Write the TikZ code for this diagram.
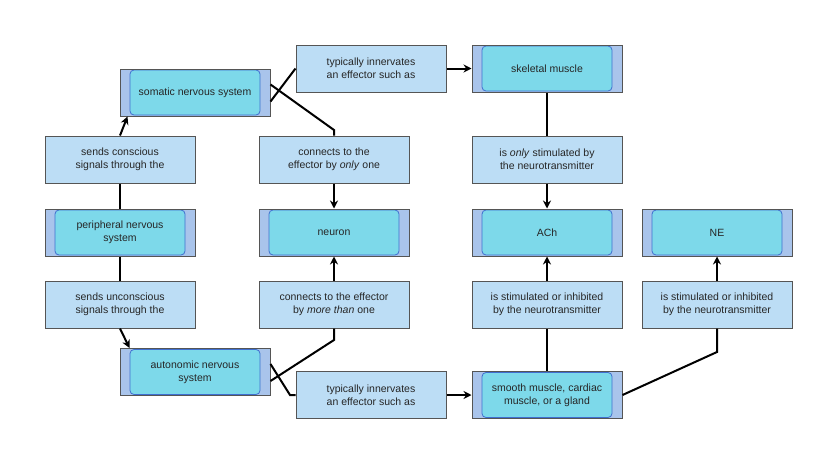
\documentclass[tikz,border=0pt]{standalone}
\usepackage{fontspec}
\setmainfont{Liberation Sans}
\usetikzlibrary{arrows.meta}
\definecolor{band}{HTML}{A9C4EB}
\definecolor{inner}{HTML}{7DD9EA}
\definecolor{innerb}{HTML}{3F6FD0}
\definecolor{phr}{HTML}{BCDDF5}
\definecolor{edge}{HTML}{555555}
\begin{document}
\begin{tikzpicture}[x=1pt,y=-1pt,
  phrase/.style={draw=edge,line width=1pt,fill=phr,minimum width=150pt,minimum height=47pt,align=center,font=\fontsize{10.5}{13}\selectfont,text=black!85,inner sep=0pt},
  concept/.style={draw=edge,line width=1pt,fill=band,minimum width=150pt,minimum height=47pt,inner sep=0pt,
    path picture={\fill[inner,draw=innerb,line width=0.8pt,rounded corners=4pt] ([xshift=10pt,yshift=-1pt]path picture bounding box.north west) rectangle ([xshift=-10pt,yshift=1pt]path picture bounding box.south east);}},
  ctext/.style={align=center,font=\fontsize{10.5}{13}\selectfont,text=black!85},
  ln/.style={line width=2pt},
  arr/.style={line width=2pt,-{Stealth[length=8pt,width=8pt]}}]
\useasboundingbox (0,0) rectangle (825,461);
\newcommand{\concept}[4]{\node[concept] (#1) at (#2,#3) {}; \node[ctext] at (#1) {#4};}
\concept{som}{195}{92.5}{somatic nervous system}
\concept{per}{120}{232.5}{peripheral nervous\\system}
\concept{aut}{195}{372}{autonomic nervous\\system}
\concept{skel}{547}{68.5}{skeletal muscle}
\concept{neu}{334}{232.5}{neuron}
\concept{ach}{547}{232.5}{ACh}
\concept{ne}{717}{232.5}{NE}
\concept{smo}{547}{395}{smooth muscle, cardiac\\muscle, or a gland}
\node[phrase] (p1) at (120,159.5) {sends conscious\\signals through the};
\node[phrase] (p2) at (120,304.5) {sends unconscious\\signals through the};
\node[phrase] (p3) at (371,68.5) {typically innervates\\an effector such as};
\node[phrase] (p4) at (371,395) {typically innervates\\an effector such as};
\node[phrase] (p5) at (334,159.5) {connects to the\\effector by \textit{only} one};
\node[phrase] (p6) at (334,304.5) {connects to the effector\\by \textit{more than} one};
\node[phrase] (p7) at (547,159.5) {is \textit{only} stimulated by\\the neurotransmitter};
\node[phrase] (p8) at (547,304.5) {is stimulated or inhibited\\by the neurotransmitter};
\node[phrase] (p9) at (717,304.5) {is stimulated or inhibited\\by the neurotransmitter};
\draw[ln] (per.north) -- (p1.south);
\draw[arr] (p1.north) -- ([xshift=8pt]som.south west);
\draw[ln] (per.south) -- (p2.south |- p2.north);
\draw[arr] (p2.south) -- ([xshift=10pt]aut.north west);
\draw[ln] ([yshift=-9pt]som.east) -- (p3.west);
\draw[arr] (p3.east) -- (skel.west);
\draw[ln] ([yshift=8pt]som.east) -- (334,130) -- (p5.north);
\draw[arr] (p5.south) -- (neu.north);
\draw[ln] ([yshift=-9pt]aut.east) -- (334,340) -- (p6.south);
\draw[arr] (p6.north) -- (neu.south);
\draw[ln] ([yshift=8pt]aut.east) -- (290,395) -- (p4.west);
\draw[arr] (p4.east) -- (smo.west);
\draw[ln] (skel.south) -- (p7.north);
\draw[arr] (p7.south) -- (ach.north);
\draw[ln] (smo.north) -- (p8.south);
\draw[arr] (p8.north) -- (ach.south);
\draw[ln] (smo.east) -- (717,352) -- (p9.south);
\draw[arr] (p9.north) -- (ne.south);
\end{tikzpicture}
\end{document}
